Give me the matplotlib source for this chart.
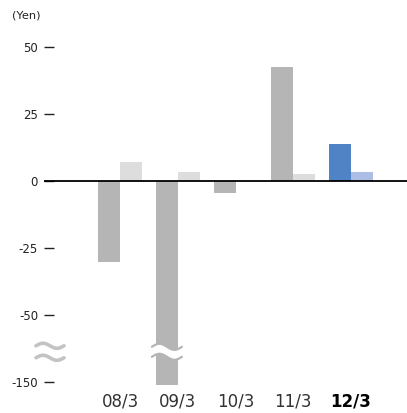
import numpy as np
import matplotlib
matplotlib.use('Agg')
import matplotlib.pyplot as plt
from matplotlib.transforms import ScaledTranslation, blended_transform_factory

# 数据
years = ['08/3', '09/3', '10/3', '11/3', '12/3']
eps_main = [-30.3, -155, -4.4, 42.5, 13.8]     # 前面的柱
eps_sub = [7.1, 3.4, 0.0, 2.6, 3.4]            # 后面的柱
ytick_vals = [50, 25, 0, -25, -50, -150]

main_colors = ['#b4b5b4', '#b4b5b4', '#b4b5b4', '#b4b5b4', '#5083c5']
sub_colors = ['#dcdddc', '#dcdddc', '#dcdddc', '#dcdddc', '#adbde6']

plt.rcParams['font.family'] = ['DejaVu Sans']


# -50 以下压缩显示（断轴）
def fwd(y):
    y = np.asarray(y, dtype=float)
    return np.where(y >= -50, y, -50 + (y + 50) / 4.0)


def inv(d):
    d = np.asarray(d, dtype=float)
    return np.where(d >= -50, d, -50 + (d + 50) * 4.0)


fig = plt.figure(figsize=(4.07, 4.13), dpi=100)
ax = fig.add_axes([44 / 407, 23 / 413, 363 / 407, 370 / 413])
ax.set_yscale('function', functions=(fwd, inv))

x = np.arange(len(years))
w = 0.38
ax.bar(x - w / 2, eps_main, width=w, color=main_colors, zorder=2)
ax.bar(x + w / 2, eps_sub, width=w, color=sub_colors, zorder=2)
ax.axhline(0, color='black', lw=1.3, zorder=3)

ax.set_xlim(-1.32, 4.97)
ax.set_ylim(-162, 60)

ax.set_yticks(ytick_vals)
ax.set_yticklabels([str(v) for v in ytick_vals])
ax.tick_params(axis='y', direction='in', length=7.2, width=1.0, color='#222222',
               labelsize=8.5, labelcolor='#222222', pad=4.3)
ax.set_xticks(x)
ax.set_xticklabels(years)
ax.tick_params(axis='x', length=0, labelsize=12, labelcolor='#333333', pad=2)
lab = ax.get_xticklabels()[-1]
lab.set_fontweight('bold')
lab.set_color('black')

for s in ax.spines.values():
    s.set_visible(False)


# 断轴的波浪线
def wave(trans_base, cx, cy, half_w, amp, gap, lw, color, fill=None, clip=True):
    tr = fig.dpi_scale_trans + ScaledTranslation(cx, cy, trans_base)
    t = np.linspace(-1, 1, 80)
    xs = t * half_w
    ys = -amp * np.sin(np.pi * t)
    if fill is not None:
        ax.fill_between(xs, ys - gap, ys + gap, color=fill, transform=tr,
                        zorder=4, clip_on=clip, lw=0)
    for off in (gap, -gap):
        ax.plot(xs, ys + off, color=color, lw=lw, transform=tr, zorder=5,
                clip_on=clip, solid_capstyle='round')


blend = blended_transform_factory(ax.transAxes, ax.transData)
wave(blend, 6 / 363, -105, 0.14, 0.025, 0.06, 2.6, '#c3c3c3', clip=False)
wave(ax.transData, 1 - w / 2, -105, 0.15, 0.03, 0.05, 1.6, '#b4b5b4', fill='white')

fig.text(12 / 407, 1 - 16 / 413, '(Yen)', fontsize=8.2, color='#222222', va='center')

fig.savefig('out.png', dpi=100)
